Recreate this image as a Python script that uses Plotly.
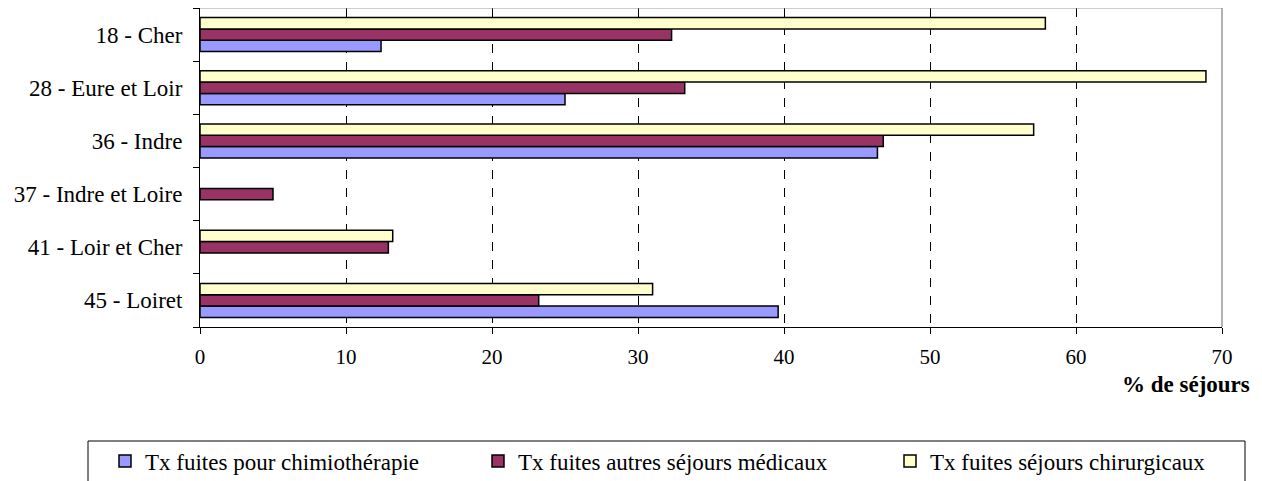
import plotly.graph_objects as go

categories = ["18 - Cher", "28 - Eure et Loir", "36 - Indre",
              "37 - Indre et Loire", "41 - Loir et Cher", "45 - Loiret"]
chimio = [12.4, 25.0, 46.4, None, None, 39.6]
medicaux = [32.3, 33.2, 46.8, 5.0, 12.9, 23.2]
chirurgicaux = [57.9, 68.9, 57.1, None, 13.2, 31.0]
series_names = ["Tx fuites pour chimiothérapie",
                "Tx fuites autres séjours médicaux",
                "Tx fuites séjours chirurgicaux"]
series_colors = ["#9999FF", "#993366", "#FFFFCC"]
x_ticks = [0, 10, 20, 30, 40, 50, 60, 70]
x_title = "% de séjours"

FONT = "Liberation Serif, Times New Roman, serif"
FS = 23
FS_X = 21
OFF = 8                      # default page body margin
PAGE_W, PAGE_H = 1262, 481
W, H = PAGE_W - OFF, PAGE_H - OFF
# plot area in page pixels
PX0, PX1, PY0, PY1 = 200, 1222, 8, 327
L, R, T, B = PX0 - OFF, PAGE_W - PX1, PY0 - OFF, PAGE_H - PY1
pw = PX1 - PX0
ph = PY1 - PY0


def px_to_paper_x(px):
    return (px - PX0) / pw


def py_to_paper_y(py):
    return (PY1 - py) / ph


fig = go.Figure()
legend_ids = ["legend", "legend2", "legend3"]
for name, vals, col, lg in zip(series_names, [chimio, medicaux, chirurgicaux],
                               series_colors, legend_ids):
    fig.add_trace(go.Bar(
        y=categories, x=vals, orientation="h", name=name,
        marker=dict(color=col, line=dict(color="black", width=1.5)),
        legend=lg, showlegend=True,
    ))

leg_common = dict(orientation="h", xref="container", yref="container",
                  xanchor="left", yanchor="middle",
                  font=dict(family=FONT, size=FS, color="black"),
                  bgcolor="rgba(0,0,0,0)", borderwidth=0,
                  itemwidth=30)
# page x where each legend text starts
text_x = [145, 518, 930]
legend_layout = {}
for lg, tx in zip(legend_ids, text_x):
    legend_layout[lg] = dict(leg_common, x=(tx - 40 - OFF) / W,
                             y=1 - (461 - OFF) / H)

fig.update_layout(
    width=W, height=H,
    showlegend=True,
    margin=dict(l=L, r=R, t=T, b=B, pad=0),
    paper_bgcolor="white", plot_bgcolor="white",
    barmode="group", bargap=0.36, bargroupgap=0,
    font=dict(family=FONT, size=FS, color="black"),
    **legend_layout,
    xaxis=dict(range=[0, 70], tickvals=x_ticks, ticks="outside", ticklen=6,
               tickcolor="black", showline=True, linecolor="black", linewidth=1,
               showgrid=True, gridcolor="black", griddash="dash", gridwidth=1,
               zeroline=False, tickfont=dict(family=FONT, size=FS_X),
               ticklabelstandoff=5, fixedrange=True),
    yaxis=dict(categoryorder="array", categoryarray=categories[::-1],
               tickson="boundaries", ticks="outside", ticklen=6,
               tickcolor="black", showline=True, linecolor="black",
               linewidth=1, showgrid=False, ticklabelstandoff=12,
               tickfont=dict(family=FONT, size=FS), fixedrange=True),
    shapes=[
        dict(type="line", xref="paper", yref="paper", x0=0, x1=1, y0=1, y1=1,
             line=dict(color="#999999", width=1), layer="above"),
        dict(type="line", xref="paper", yref="paper", x0=1, x1=1, y0=0, y1=1,
             line=dict(color="#999999", width=1.5), layer="above"),
        # legend frame
        dict(type="rect", xref="paper", yref="paper",
             x0=px_to_paper_x(88), x1=px_to_paper_x(1245),
             y0=py_to_paper_y(PAGE_H + 5), y1=py_to_paper_y(441),
             line=dict(color="black", width=1), fillcolor="rgba(0,0,0,0)"),
    ],
    annotations=[
        dict(text="<b>" + x_title + "</b>", xref="paper", yref="paper",
             x=px_to_paper_x(1252), y=py_to_paper_y(384),
             xanchor="right", yanchor="middle", showarrow=False,
             font=dict(family=FONT, size=FS, color="black")),
    ],
)

fig.write_html("out.html")
